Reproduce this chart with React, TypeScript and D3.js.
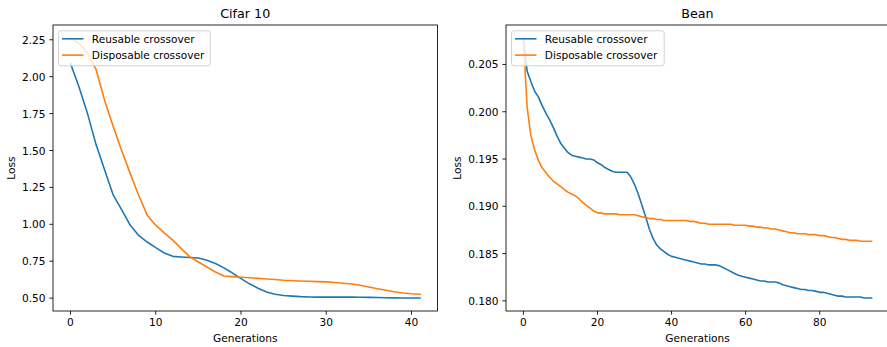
import React from "react";
import * as d3 from "d3";

const seriesNames = ["Reusable crossover", "Disposable crossover"];
const seriesColors = ["#1f77b4", "#ff7f0e"];

const cifarReusable = [
  2.09, 1.93, 1.75, 1.54, 1.37, 1.2, 1.1, 0.995, 0.925, 0.88, 0.842, 0.806, 0.783, 0.779,
  0.775, 0.772, 0.757, 0.735, 0.705, 0.67, 0.632, 0.597, 0.567, 0.542, 0.526, 0.518, 0.514,
  0.51, 0.508, 0.507, 0.507, 0.507, 0.507, 0.507, 0.506, 0.505, 0.504, 0.503, 0.502, 0.501,
  0.501, 0.501,
];
const cifarDisposable = [
  2.262, 2.225, 2.16, 2.05, 1.84, 1.665, 1.5, 1.345, 1.197, 1.062, 0.994, 0.942, 0.893, 0.835,
  0.78, 0.745, 0.711, 0.677, 0.65, 0.646, 0.642, 0.638, 0.634, 0.63, 0.626, 0.621, 0.618,
  0.616, 0.614, 0.612, 0.61, 0.606, 0.601, 0.596, 0.587, 0.576, 0.564, 0.553, 0.543, 0.535,
  0.53, 0.527,
];
const beanReusable = [
  0.2078, 0.2043, 0.2032, 0.2022, 0.2016, 0.2007, 0.1999, 0.1992, 0.1984, 0.1975, 0.1967,
  0.1962, 0.1957, 0.1954, 0.1953, 0.1952, 0.1951, 0.195, 0.195, 0.1949, 0.1946, 0.1944,
  0.1941, 0.1939, 0.1937, 0.1936, 0.1936, 0.1936, 0.1936, 0.1931, 0.1923, 0.1913, 0.1901,
  0.1889, 0.1876, 0.1866, 0.1859, 0.1855, 0.1852, 0.1849, 0.1847, 0.1846, 0.1845, 0.1844,
  0.1843, 0.1842, 0.1841, 0.184, 0.1839, 0.1839, 0.1838, 0.1838, 0.1838, 0.1837, 0.1835,
  0.1833, 0.1831, 0.1829, 0.1827, 0.1826, 0.1825, 0.1824, 0.1823, 0.1822, 0.1821, 0.1821,
  0.182, 0.182, 0.182, 0.1819, 0.1817, 0.1816, 0.1815, 0.1814, 0.1813, 0.1812, 0.1812,
  0.1811, 0.1811, 0.181, 0.1809, 0.1809, 0.1808, 0.1807, 0.1806, 0.1805, 0.1805, 0.1804,
  0.1804, 0.1804, 0.1804, 0.1804, 0.1803, 0.1803, 0.1803,
];
const beanDisposable = [
  0.2077, 0.2005, 0.1975, 0.196, 0.1949, 0.1941, 0.1936, 0.1931, 0.1927, 0.1924, 0.1921,
  0.1918, 0.1915, 0.1913, 0.1911, 0.1908, 0.1904, 0.1901, 0.1898, 0.1895, 0.1893, 0.1893,
  0.1892, 0.1892, 0.1892, 0.1892, 0.1891, 0.1891, 0.1891, 0.1891, 0.1891, 0.189, 0.1889,
  0.1888, 0.1887, 0.1887, 0.1886, 0.1886, 0.1885, 0.1885, 0.1885, 0.1885, 0.1885, 0.1885,
  0.1885, 0.1884, 0.1884, 0.1883, 0.1882, 0.1882, 0.1881, 0.1881, 0.1881, 0.1881, 0.1881,
  0.1881, 0.1881, 0.188, 0.188, 0.188, 0.188, 0.1879, 0.1879, 0.1878, 0.1878, 0.1877,
  0.1877, 0.1876, 0.1876, 0.1875, 0.1874, 0.1873, 0.1872, 0.1872, 0.1871, 0.1871, 0.1871,
  0.187, 0.187, 0.187, 0.1869, 0.1869, 0.1868, 0.1867, 0.1867, 0.1866, 0.1865, 0.1865,
  0.1864, 0.1864, 0.1864, 0.1863, 0.1863, 0.1863, 0.1863,
];

const cifarXTicks = [0, 10, 20, 30, 40];
const cifarYTicks = [0.5, 0.75, 1.0, 1.25, 1.5, 1.75, 2.0, 2.25];
const beanXTicks = [0, 20, 40, 60, 80];
const beanYTicks = [0.18, 0.185, 0.19, 0.195, 0.2, 0.205];

const FONT = "DejaVu Sans, sans-serif";
const FS = 10.6;

type PanelProps = {
  title: string;
  series: number[][];
  xTicks: number[];
  yTicks: number[];
  yDigits: number;
  left: number;
  right: number;
  top: number;
  bottom: number;
  legendWidth: number;
  yLabelOffset: number;
};

function Panel(p: PanelProps) {
  const n = p.series[0].length;
  const xMax = n - 1;
  const xPad = xMax * 0.05;
  const all = p.series.flat();
  const yMin = d3.min(all) as number;
  const yMax = d3.max(all) as number;
  const yPad = (yMax - yMin) * 0.05;
  const x = d3.scaleLinear().domain([-xPad, xMax + xPad]).range([p.left, p.right]);
  const y = d3.scaleLinear().domain([yMin - yPad, yMax + yPad]).range([p.bottom, p.top]);
  const line = d3
    .line<number>()
    .x((_, i) => x(i))
    .y((d) => y(d));
  const cx = (p.left + p.right) / 2;
  const cy = (p.top + p.bottom) / 2;
  const lx = p.left + 5.5;
  const ly = p.top + 5.8;
  const clipId = "clip-" + p.title.replace(/\s/g, "");
  return (
    <g>
      <defs>
        <clipPath id={clipId}>
          <rect x={p.left} y={p.top} width={p.right - p.left} height={p.bottom - p.top} />
        </clipPath>
      </defs>
      <g clipPath={`url(#${clipId})`}>
        {p.series.map((s, i) => (
          <path
            key={i}
            d={line(s) || ""}
            fill="none"
            stroke={seriesColors[i]}
            strokeWidth={1.6}
            strokeLinejoin="round"
            strokeLinecap="square"
          />
        ))}
      </g>
      <rect
        x={p.left}
        y={p.top}
        width={p.right - p.left}
        height={p.bottom - p.top}
        fill="none"
        stroke="#000"
        strokeWidth={0.85}
      />
      {p.xTicks.map((t) => (
        <g key={"x" + t}>
          <line x1={x(t)} x2={x(t)} y1={p.bottom} y2={p.bottom + 3.7} stroke="#000" strokeWidth={0.85} />
          <text x={x(t)} y={p.bottom + 7.4} textAnchor="middle" dominantBaseline="hanging" fontSize={FS} fontFamily={FONT}>
            {t}
          </text>
        </g>
      ))}
      {p.yTicks.map((t) => (
        <g key={"y" + t}>
          <line x1={p.left - 3.7} x2={p.left} y1={y(t)} y2={y(t)} stroke="#000" strokeWidth={0.85} />
          <text x={p.left - 7.4} y={y(t)} textAnchor="end" dominantBaseline="central" fontSize={FS} fontFamily={FONT}>
            {t.toFixed(p.yDigits)}
          </text>
        </g>
      ))}
      <text x={cx} y={p.bottom + 27} textAnchor="middle" dominantBaseline="central" fontSize={FS} fontFamily={FONT}>
        Generations
      </text>
      <text
        transform={`translate(${p.left - p.yLabelOffset},${cy}) rotate(-90)`}
        textAnchor="middle"
        dominantBaseline="central"
        fontSize={FS}
        fontFamily={FONT}
      >
        Loss
      </text>
      <text x={cx} y={13.5} textAnchor="middle" dominantBaseline="central" fontSize={12.7} fontFamily={FONT}>
        {p.title}
      </text>
      <g>
        <rect
          x={lx}
          y={ly}
          width={p.legendWidth}
          height={35}
          rx={2.5}
          fill="#fff"
          fillOpacity={0.8}
          stroke="#cccccc"
          strokeWidth={0.9}
        />
        {seriesNames.map((name, i) => (
          <g key={name}>
            <line
              x1={lx + 3.5}
              x2={lx + 25}
              y1={ly + 8 + i * 16.3}
              y2={ly + 8 + i * 16.3}
              stroke={seriesColors[i]}
              strokeWidth={1.6}
            />
            <text
              x={lx + 33.3}
              y={ly + 8 + i * 16.3}
              dominantBaseline="central"
              fontSize={FS}
              fontFamily={FONT}
            >
              {name}
            </text>
          </g>
        ))}
      </g>
    </g>
  );
}

export default function App() {
  return (
    <svg width={887} height={347} style={{ position: "absolute", left: 0, top: 0, background: "#fff" }}>
      <rect x={0} y={0} width={887} height={347} fill="#fff" />
      <Panel
        title="Cifar 10"
        series={[cifarReusable, cifarDisposable]}
        xTicks={cifarXTicks}
        yTicks={cifarYTicks}
        yDigits={2}
        left={53}
        right={437.5}
        top={25}
        bottom={311}
        legendWidth={151.7}
        yLabelOffset={42}
      />
      <Panel
        title="Bean"
        series={[beanReusable, beanDisposable]}
        xTicks={beanXTicks}
        yTicks={beanYTicks}
        yDigits={3}
        left={506}
        right={889}
        top={25}
        bottom={311}
        legendWidth={152.7}
        yLabelOffset={49}
      />
    </svg>
  );
}
